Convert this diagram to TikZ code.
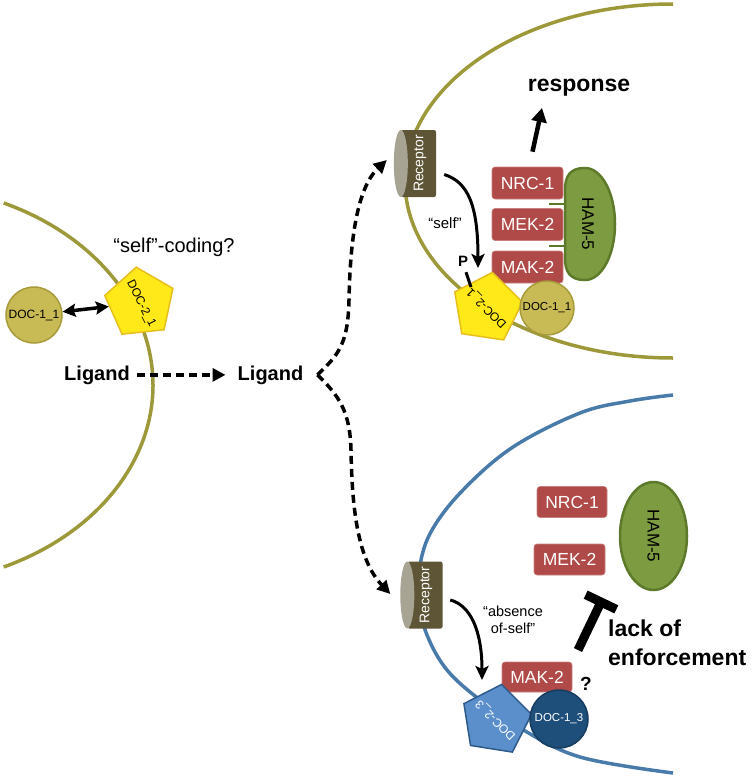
\documentclass[tikz,border=0pt]{standalone}
\usepackage{fontspec}
\setmainfont{Liberation Sans}
\usetikzlibrary{shapes.geometric,arrows.meta,calc}
\definecolor{olivem}{RGB}{157,153,58}
\definecolor{bluem}{RGB}{72,122,170}
\definecolor{boxred}{RGB}{176,74,72}
\definecolor{hamfill}{RGB}{125,155,64}
\definecolor{hamdraw}{RGB}{92,122,42}
\definecolor{recbody}{RGB}{94,85,55}
\definecolor{reccap}{RGB}{168,164,148}
\definecolor{yel}{RGB}{255,233,25}
\definecolor{yeldraw}{RGB}{232,190,30}
\definecolor{docc}{RGB}{200,186,84}
\definecolor{doccd}{RGB}{168,155,60}
\definecolor{bpent}{RGB}{91,143,203}
\definecolor{bpentd}{RGB}{45,92,140}
\definecolor{navyc}{RGB}{30,78,122}
\definecolor{navyd}{RGB}{22,60,95}
\begin{document}
\begin{tikzpicture}[x=1pt,y=-1pt,
  memO/.style={draw=olivem, line width=3.5pt},
  memB/.style={draw=bluem, line width=3.5pt},
  redbox/.style={rectangle, rounded corners=3pt, fill=boxred, draw=boxred!70!white, line width=0.6pt,
    text=white, minimum width=71pt, minimum height=32pt, inner sep=0pt, font=\fontsize{17.5}{21}\selectfont},
  pent/.style={regular polygon, regular polygon sides=5, minimum size=72pt, inner sep=0pt, line width=1.5pt},
  pentlab/.style={font=\fontsize{12}{14}\selectfont, inner sep=0pt},
  doccirc/.style={circle, inner sep=0pt, line width=1.5pt, font=\fontsize{11.5}{13}\selectfont},
  rbody/.style={rectangle, fill=recbody, minimum width=35pt, minimum height=67pt, inner sep=0pt, rounded corners=2pt},
  rtext/.style={text=white, rotate=90, font=\fontsize{14}{16}\selectfont, inner sep=0pt},
  bigbold/.style={font=\bfseries\fontsize{20}{24}\selectfont, inner sep=0pt},
  plain/.style={font=\fontsize{15}{18}\selectfont, inner sep=0pt},
  dasharrow/.style={line width=3.5pt, dash pattern=on 8pt off 5pt, -{Triangle[length=13pt,width=13pt]}},
  blackarrow/.style={line width=3pt, -{Stealth[length=14pt,width=13pt,inset=3pt]}},
  hamtext/.style={rotate=-90, font=\fontsize{17}{20}\selectfont, inner sep=0pt}
]
\useasboundingbox (0,0) rectangle (752,779);

% membranes
\draw[memO] (3.7,203) arc[start angle=-65.5, end angle=65.5, x radius=255, y radius=200];
\draw[memO] (673,4) arc[start angle=-90, end angle=-270, x radius=268, y radius=177];
\draw[memB] plot[smooth, tension=0.6] coordinates {(673,395) (630,401) (580,413) (513,447) (463,490) (432,530) (420,565) (419,600) (427,635) (447,670) (480,700) (520,728) (580,757) (673,773)};

% ---------- left cell ----------
\node[plain, font=\fontsize{20}{24}\selectfont, anchor=base] (selfc) at (174,252) {“self”-coding?};
\node[pent, fill=yel, draw=yeldraw, rotate=6] (doc21l) at (140,303) {};
\node[pentlab, rotate=-63] (doc21lt) at (141,304) {DOC-2\_1};
\node[doccirc, fill=docc, draw=doccd, minimum size=56pt, font=\fontsize{12}{14}\selectfont] (doc11l) at (34,315) {DOC-1\_1};
\draw[line width=3.5pt, {Stealth[length=13pt,width=13pt,inset=2pt]}-{Stealth[length=13pt,width=13pt,inset=2pt]}] (doc11l) -- (doc21l);

\node[bigbold, anchor=base] (lig1) at (97,380) {Ligand};
\node[bigbold, anchor=base] (lig2) at (270.5,380) {Ligand};
\draw[dasharrow] ([xshift=7pt]lig1.east) -- ([xshift=-12pt]lig2.west);
\coordinate (fork) at ([xshift=14pt]lig2.east);

% receptors
\node[rbody] (rec1) at (418.5,163.5) {};
\fill[reccap] (rec1.west) ellipse [x radius=7, y radius=33.5];
\node[rtext] (rec1t) at (420,163.5) {Receptor};
\node[rbody] (rec2) at (425,595) {};
\fill[reccap] (rec2.west) ellipse [x radius=7, y radius=33.5];
\node[rtext] (rec2t) at (426,595) {Receptor};

\draw[dasharrow] (fork) .. controls (338,355) and (348,345) .. (349,300)
   .. controls (350,250) and (355,190) .. ([xshift=-14pt,yshift=3.5pt]rec1.west);
\draw[dasharrow] (fork) .. controls (338,395) and (350,410) .. (351,450)
   .. controls (352,510) and (358,560) .. ([xshift=-17pt,yshift=1pt]rec2.west);

% ---------- top cell ----------
\node[redbox] (nrc1a) at (527.5,183) {NRC-1};
\node[redbox] (mek2a) at (527.5,224.5) {MEK-2};
\node[redbox] (mak2a) at (527.5,267) {MAK-2};

\draw[hamdraw, line width=2pt] (549,203.5) -- (566,203.5);
\draw[hamdraw, line width=2pt] (549,245.5) -- (566,245.5);
\filldraw[fill=hamfill, draw=hamdraw, line width=2.5pt]
  (585,168) arc[start angle=-90, end angle=90, x radius=30, y radius=56]
  .. controls (570,280) and (565,272) .. (565,258) -- (565,190)
  .. controls (565,176) and (570,168) .. (585,168) -- cycle;
\node[hamtext] (ham5a) at (588,224) {HAM-5};

\node[pent, fill=yel, draw=yeldraw, rotate=-8.5] (doc21r) at (487,308) {};
\node[pentlab, rotate=135] (doc21rt) at (487,308) {DOC-2\_1};
\node[doccirc, fill=docc, draw=doccd, minimum size=54pt] (doc11r) at (547,308) {DOC-1\_1};

\node[plain, anchor=base] (selft) at (445,228) {“self”};
\draw[blackarrow] ([xshift=8pt,yshift=-11pt]rec1.east) .. controls (468,182) and (478,205) .. ([xshift=-9pt,yshift=40pt]doc21r.center);
\node[font=\bfseries\fontsize{15}{18}\selectfont, inner sep=0pt, anchor=base] (pnode) at (463,266) {P};
\draw[line width=3pt] ([xshift=3pt,yshift=-6pt]pnode.south) -- ([xshift=-16pt,yshift=21pt]doc21r.center);

\node[font=\bfseries\fontsize{23}{27}\selectfont, inner sep=0pt, anchor=base] (resp) at (579,91) {response};
\draw[line width=4.5pt, -{Triangle[length=14pt,width=15pt]}] ([xshift=5pt,yshift=15pt]nrc1a.north) -- ([xshift=-37pt,yshift=-12pt]resp.south);

% ---------- bottom cell ----------
\node[redbox, minimum width=70pt, minimum height=31pt] (nrc1b) at (572,502) {NRC-1};
\node[redbox, minimum height=31pt] (mek2b) at (569.5,559.5) {MEK-2};
\node[ellipse, rotate=-90, minimum width=108pt, minimum height=67pt, fill=hamfill, draw=hamdraw,
      line width=2.5pt, inner sep=0pt, font=\fontsize{17}{20}\selectfont] (ham5b) at (653.5,536) {HAM-5};

\node[redbox, minimum width=70pt, minimum height=30pt] (mak2b) at (537,677) {MAK-2};
\node[pent, fill=bpent, draw=bpentd, rotate=-9] (doc23) at (496,720) {};
\node[pentlab, rotate=135, text=white] (doc23t) at (496,720) {DOC-2\_3};
\node[doccirc, fill=navyc, draw=navyd, minimum size=58pt, text=white] (doc13) at (559,719) {DOC-1\_3};

\node[font=\fontsize{14.5}{17.5}\selectfont, align=center, inner sep=0pt] (abs) at (513,620) {“absence\\of-self”};
\draw[blackarrow] ([xshift=7.5pt,yshift=-5pt]rec2.east) .. controls (470,605) and (482,630) .. ([xshift=-14pt,yshift=40pt]doc23.center);

\node[font=\bfseries\fontsize{19}{22}\selectfont, inner sep=0pt, anchor=base] (qm) at (586,690) {?};

\coordinate (ibs) at (578,650);
\coordinate (ibe) at (601,602);
\draw[line width=9pt] (ibs) -- (ibe);
\draw[line width=9pt] ($(ibe)!17pt!90:(ibs)$) -- ($(ibe)!17pt!-90:(ibs)$);
\node[font=\bfseries\fontsize{23}{29}\selectfont, align=left, inner sep=0pt, anchor=north west] (lack) at (608,620) {lack of\\enforcement};

\end{tikzpicture}
\end{document}
